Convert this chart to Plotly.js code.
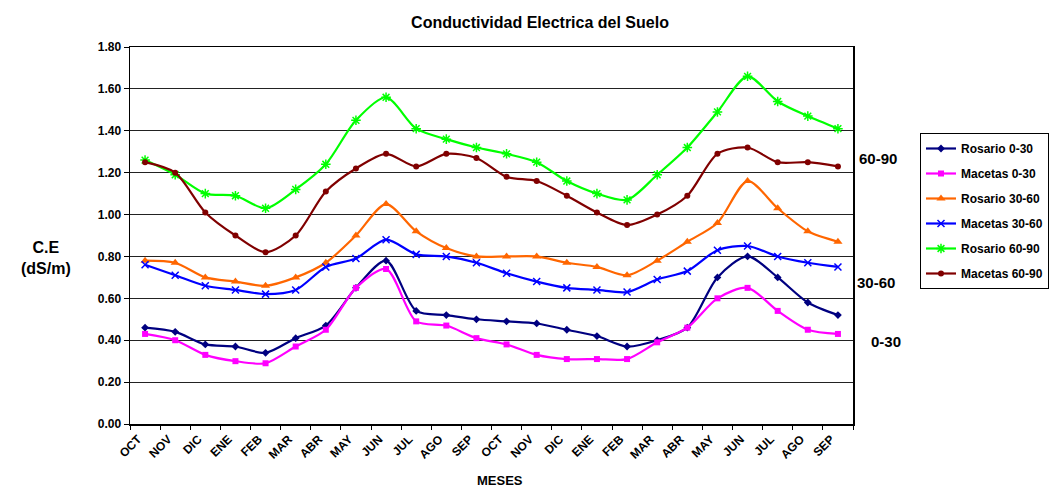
<!DOCTYPE html>
<html><head><meta charset="utf-8">
<script src="https://cdn.plot.ly/plotly-3.0.1.min.js"></script>
<style>body{margin:0;padding:0;background:#fff}#chart{width:1064px;height:499px}</style>
</head><body><div id="chart"></div>
<script>
var months = ["OCT","NOV","DIC","ENE","FEB","MAR","ABR","MAY","JUN","JUL","AGO","SEP",
              "OCT","NOV","DIC","ENE","FEB","MAR","ABR","MAY","JUN","JUL","AGO","SEP"];
var rosario030 = [0.46,0.44,0.38,0.37,0.34,0.41,0.47,0.65,0.78,0.54,0.52,0.50,0.49,0.48,0.45,0.42,0.37,0.40,0.46,0.70,0.80,0.70,0.58,0.52];
var macetas030 = [0.43,0.40,0.33,0.30,0.29,0.37,0.45,0.65,0.74,0.49,0.47,0.41,0.38,0.33,0.31,0.31,0.31,0.39,0.46,0.60,0.65,0.54,0.45,0.43];
var rosario3060 = [0.78,0.77,0.70,0.68,0.66,0.70,0.77,0.90,1.05,0.92,0.84,0.80,0.80,0.80,0.77,0.75,0.71,0.78,0.87,0.96,1.16,1.03,0.92,0.87];
var macetas3060 = [0.76,0.71,0.66,0.64,0.62,0.64,0.75,0.79,0.88,0.81,0.80,0.77,0.72,0.68,0.65,0.64,0.63,0.69,0.73,0.83,0.85,0.80,0.77,0.75];
var rosario6090 = [1.26,1.19,1.10,1.09,1.03,1.12,1.24,1.45,1.56,1.41,1.36,1.32,1.29,1.25,1.16,1.10,1.07,1.19,1.32,1.49,1.66,1.54,1.47,1.41];
var macetas6090 = [1.25,1.20,1.01,0.90,0.82,0.90,1.11,1.22,1.29,1.23,1.29,1.27,1.18,1.16,1.09,1.01,0.95,1.00,1.09,1.29,1.32,1.25,1.25,1.23];
var seriesNames = ["Rosario 0-30","Macetas 0-30","Rosario 30-60","Macetas 30-60","Rosario 60-90","Macetas 60-90"];
var depthLabels = ["60-90","30-60","0-30"];
var yTicks = [0,0.2,0.4,0.6,0.8,1.0,1.2,1.4,1.6,1.8];

var xs = months.map(function(m,i){return i;});
var F = "Liberation Sans, Arial, sans-serif";
function tr(name, y, color, sym, size, lw){
  return {x: xs, y: y, name: name, legendgroup: name, type:'scatter', mode:'lines+markers',
    line:{color:color, width:2.2, shape:'spline', smoothing:0.8},
    marker:{symbol:sym, size:size, color:color, line:{color:color, width:lw}}};
}
var data = [
  tr(seriesNames[0], rosario030, '#000080', 'diamond', 6, 0),
  tr(seriesNames[1], macetas030, '#FF00FF', 'square', 6, 0),
  tr(seriesNames[2], rosario3060, '#FF6600', 'triangle-up', 8, 0),
  tr(seriesNames[3], macetas3060, '#0000FF', 'x-thin-open', 7, 1.5),
  tr(seriesNames[4], rosario6090, '#00FF00', 'asterisk-open', 8, 1.5),
  tr(seriesNames[5], macetas6090, '#800000', 'circle', 6, 0)
];
var layout = {
  width:1064, height:499,
  margin:{l:130, r:211, t:47, b:75, autoexpand:false},
  paper_bgcolor:'#fff', plot_bgcolor:'#fff',
  font:{family:F, color:'#000'},
  title:{text:'<b>Conductividad Electrica del Suelo</b>', font:{size:16, family:F, color:'#000'},
    x:540/1064, xanchor:'center', y:1-22/499, yanchor:'middle'},
  xaxis:{type:'linear', range:[-0.5,23.5], tickmode:'array', tickvals:xs, ticktext:months,
    tickangle:-45, ticklabelshift:-7, ticklabelstandoff:2,
    tickfont:{size:12, family:F, color:'#000', weight:'bold'}, showgrid:false,
    showline:true, linecolor:'#000', linewidth:1.5, mirror:true, zeroline:false,
    ticks:'', fixedrange:true},
  xaxis2:{overlaying:'x', range:[-0.5,23.5], tickmode:'array',
    tickvals:xs.concat([24]).map(function(v){return v-0.5;}), ticktext:xs.concat([24]).map(function(){return '';}),
    ticks:'outside', ticklen:5, tickcolor:'#000', tickwidth:1, showgrid:false, showline:false, zeroline:false, anchor:'y'},
  yaxis:{range:[0,1.8], tickmode:'array', tickvals:yTicks, ticktext:yTicks.map(function(v){return v.toFixed(2);}),
    tickfont:{size:12, family:F, color:'#000', weight:'bold'}, ticks:'outside', ticklen:5, tickcolor:'#000',
    showgrid:true, gridcolor:'#222', gridwidth:1.2, showline:true, linecolor:'#000', linewidth:1.5,
    mirror:true, zeroline:false},
  legend:{x:(920-130)/723, xanchor:'left', y:(424-133)/377, yanchor:'top',
    bordercolor:'#000', borderwidth:1, bgcolor:'#fff',
    font:{size:12, family:F, color:'#000', weight:'bold'}, tracegroupgap:6, itemwidth:30},
  showlegend:true,
  annotations:[
    {xref:'paper', yref:'y', x:(878-130)/723, xanchor:'center', y:1.27, text:'<b>'+depthLabels[0]+'</b>', showarrow:false, font:{size:15,family:F,color:'#000'}},
    {xref:'paper', yref:'y', x:(876-130)/723, xanchor:'center', y:0.678, text:'<b>'+depthLabels[1]+'</b>', showarrow:false, font:{size:15,family:F,color:'#000'}},
    {xref:'paper', yref:'y', x:(886-130)/723, xanchor:'center', y:0.396, text:'<b>'+depthLabels[2]+'</b>', showarrow:false, font:{size:15,family:F,color:'#000'}},
    {xref:'paper', yref:'paper', x:(46-130)/723, xanchor:'center', y:(424-258)/377, text:'<b>C.E<br>(dS/m)</b>', showarrow:false, font:{size:16,family:F,color:'#000'}, align:'center'},
    {xref:'paper', yref:'paper', x:(500-130)/723, xanchor:'center', y:(424-490)/377, text:'<b>MESES</b>', showarrow:false, font:{size:13,family:F,color:'#000'}}
  ]
};
data.push({x:[0], y:[null], xaxis:'x2', yaxis:'y', showlegend:false, hoverinfo:'skip', mode:'lines'});
Plotly.newPlot('chart', data, layout, {displayModeBar:false, staticPlot:true});
</script></body></html>
